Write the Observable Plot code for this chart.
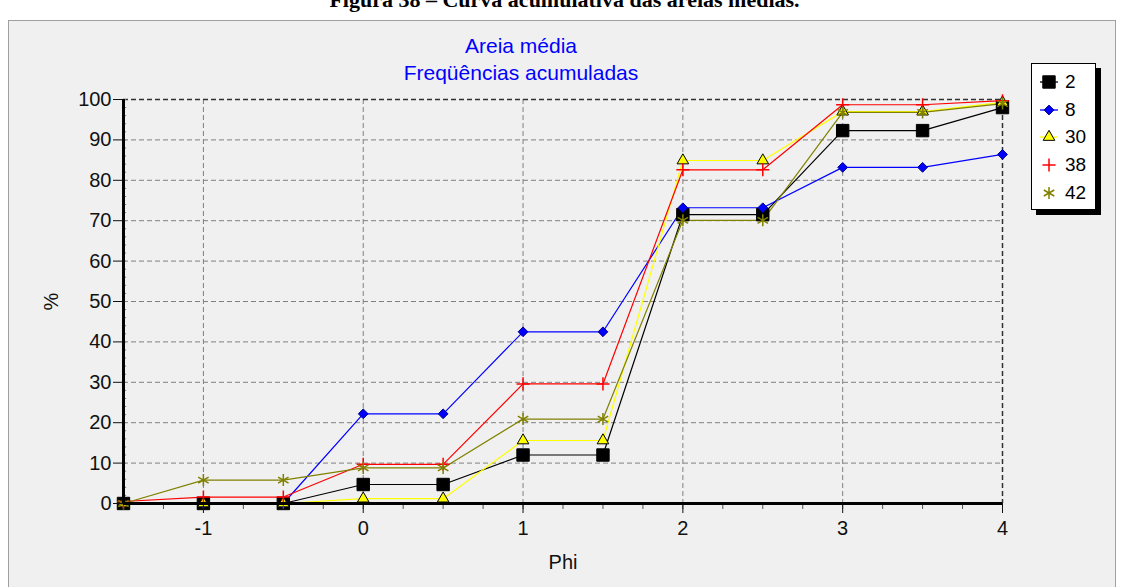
<!DOCTYPE html>
<html>
<head>
<meta charset="utf-8">
<script src="https://cdn.jsdelivr.net/npm/d3@7"></script>
<script src="https://cdn.jsdelivr.net/npm/@observablehq/plot@0.6"></script>
<style>
  html, body { margin:0; padding:0; background:#fff; width:1129px; height:587px; overflow:hidden; position:relative; font-family:"Liberation Sans", Arial, sans-serif; }
  #caption { position:absolute; left:0; width:1129px; top:-11px; text-align:center; font:bold 22px "Liberation Serif", "Times New Roman", serif; line-height:22px; color:#000; }
  #panel { position:absolute; left:8px; top:20px; width:1108px; height:580px; background:#f0f0f0; border:1px solid #a0a0a0; box-sizing:border-box; }
  #chart { position:absolute; left:0; top:0; }
  .ttl { position:absolute; left:0; width:1042px; text-align:center; font-size:21px; color:#0000ff; line-height:24px; }
  #legend { position:absolute; left:1031px; top:63px; width:65px; height:147px; background:#fff; border:1px solid #000; box-shadow:5px 5px 0 #000; box-sizing:border-box; }
  .li { position:absolute; left:6px; height:20px; display:flex; align-items:center; font-size:19px; color:#000; }
  .li svg { margin-right:5px; }
</style>
</head>
<body>
<div id="caption">Figura 38 – Curva acumulativa das areias médias.</div>
<div id="panel"></div>
<div id="chart"></div>
<div class="ttl" style="top:34px">Areia média</div>
<div class="ttl" style="top:61px">Freqüências acumuladas</div>
<div id="legend"></div>
<script>
// ---- data ----
const phi = [-1.5, -1, -0.5, 0, 0.5, 1, 1.5, 2, 2.5, 3, 3.5, 4];
const seriesNames = ["2", "8", "30", "38", "42"];
const s2  = [0, 0, 0, 4.7, 4.7, 12, 12, 71.5, 71.5, 92.3, 92.3, 98];
const s8  = [0, 0, 0, 22.2, 22.2, 42.5, 42.5, 73.2, 73.2, 83.2, 83.2, 86.4];
const s30 = [0, 0, 0, 1.2, 1.2, 15.6, 15.6, 84.9, 84.9, 97, 97, 99.3];
const s38 = [0.5, 1.6, 1.6, 9.7, 9.7, 29.6, 29.6, 82.6, 82.6, 98.7, 98.7, 99.7];
const s42 = [0, 5.8, 5.8, 8.8, 8.8, 20.9, 20.9, 70.1, 70.1, 96.8, 96.8, 99];
const yTicks = [0, 10, 20, 30, 40, 50, 60, 70, 80, 90, 100];
const xTicks = [-1, 0, 1, 2, 3, 4];
const xMinor = d3.range(-1.5, 4.001, 0.25);
const yMinor = d3.range(0, 100.001, 2);

const values = [s2, s8, s30, s38, s42];
const styles = [
  {color:"#000000", symbol:"square", r:7, fill:"#000000", stroke:"#000000"},
  {color:"#0000ff", symbol:"diamond2", r:4.4, fill:"#0000ff", stroke:"#000080"},
  {color:"#ffff00", symbol:"triangle", r:4.3, fill:"#ffff00", stroke:"#000000"},
  {color:"#ff0000", symbol:"plus", r:4.3, fill:"none", stroke:"#ff0000"},
  {color:"#808000", symbol:"asterisk", r:5.7, fill:"none", stroke:"#808000"}
];
const tables = values.map((vals, i) => phi.map((p, j) => ({phi:p, pct:vals[j], series:seriesNames[i]})));

const marks = [
  Plot.gridY(yTicks.filter(d => d > 0 && d < 100), {stroke:"#808080", strokeOpacity:1, strokeDasharray:"5,3"}),
  Plot.gridX(xTicks.filter(d => d < 4), {stroke:"#808080", strokeOpacity:1, strokeDasharray:"5,3"}),
  Plot.ruleY([100], {stroke:"#303030", strokeDasharray:"5,3", strokeWidth:1.5}),
  Plot.ruleX([4], {stroke:"#303030", strokeDasharray:"5,3", strokeWidth:1.5}),
  Plot.ruleY(yMinor, {x1:-1.5, x2:-1.48, stroke:"#808080"})
];
tables.forEach((t, i) => {
  const s = styles[i];
  marks.push(Plot.line(t, {x:"phi", y:"pct", stroke:s.color, strokeWidth:1.2}));
});
tables.forEach((t, i) => {
  const s = styles[i];
  marks.push(Plot.dot(t, {x:"phi", y:"pct", symbol:()=>s.symbol, r:s.r, fill:s.fill, stroke:s.stroke, strokeWidth: (s.fill === "none" ? 1.5 : 1)}));
});
const fmt = d => (d < 0 ? "-" + Math.abs(d) : String(d));
marks.push(
  Plot.axisY(yTicks, {tickSize:10, tickPadding:2, tickFormat:fmt, label:"%", labelAnchor:"center", labelArrow:"none", labelOffset:80, fontSize:20, color:"#111"}),
  Plot.axisX(xMinor, {tickSize:6, text:null, label:null, stroke:"#555"}),
  Plot.axisX(xTicks, {tickSize:10, tickPadding:7, tickFormat:fmt, label:"Phi", labelAnchor:"center", labelArrow:"none", labelOffset:65, fontSize:20, color:"#111"}),
  Plot.ruleX([-1.5], {stroke:"#000", strokeWidth:3}),
  Plot.ruleY([0], {stroke:"#000", strokeWidth:3})
);

const chart = Plot.plot({
  width:1129, height:587,
  marginLeft:123, marginRight:127, marginTop:99, marginBottom:84,
  style:{background:"transparent", fontFamily:"'Liberation Sans', Arial, sans-serif", fontSize:"20px", color:"#111", overflow:"visible"},
  x:{type:"linear", domain:[-1.5, 4]},
  y:{type:"linear", domain:[0, 100]},
  symbol:{type:"identity"},
  marks
});
document.getElementById("chart").appendChild(chart);

// ---- legend ----
const leg = document.getElementById("legend");
const symMap = {square:d3.symbolSquare, diamond2:d3.symbolDiamond2, triangle:d3.symbolTriangle, plus:d3.symbolPlus, asterisk:d3.symbolAsterisk};
seriesNames.forEach((name, i) => {
  const s = styles[i];
  const row = document.createElement("div");
  row.className = "li";
  row.style.top = (8 + i * 27.7) + "px";
  const path = d3.symbol(symMap[s.symbol], Math.PI * s.r * s.r)();
  row.innerHTML = `<svg width="22" height="20" viewBox="-11 -10 22 20">
    ${i < 3 ? `<line x1="-9" x2="9" y1="0" y2="0" stroke="${s.color}" stroke-width="1.3"/>` : ""}
    <path d="${path}" fill="${s.fill}" stroke="${s.stroke}" stroke-width="${s.fill === 'none' ? 1.5 : 1}"/></svg><span>${name}</span>`;
  leg.appendChild(row);
});
</script>
</body>
</html>
